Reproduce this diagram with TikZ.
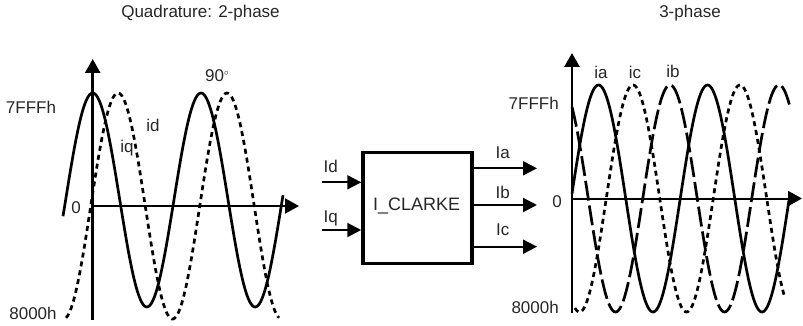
\documentclass[tikz,border=0pt]{standalone}
\usepackage{fontspec}
\setmainfont{Liberation Sans}
\usetikzlibrary{arrows.meta}
\begin{document}
\begin{tikzpicture}[x=1pt,y=-1pt,
  txt/.style={inner sep=0pt,text=black!85,font=\fontsize{17}{20}\selectfont},
  axisline/.style={line width=2pt,-{Triangle[length=14pt,width=15pt]}},
  sigarrow/.style={line width=2pt,-{Triangle[length=14pt,width=14pt]}},
  solidwave/.style={line width=2.7pt,line join=round},
  shortdash/.style={line width=2.7pt,dash pattern=on 5pt off 4pt},
  longdash/.style={line width=2.7pt,dash pattern=on 20pt off 5pt},
  blockbox/.style={draw,line width=3.5pt,minimum width=109pt,minimum height=111pt,inner sep=0pt}]
\path[use as bounding box] (0,0) rectangle (803,326);
% ---------- left plot ----------
\node[txt] (tl) at (200.5,13) {Quadrature: 2-phase};
\coordinate (lyb) at (92.7,320);
\coordinate (lyt) at (92.7,59);
\coordinate (lxo) at (92.7,206);
\coordinate (lxe) at (299,206);
\draw[line width=2.8pt,-{Triangle[length=14pt,width=15pt]}] (lyb) -- (lyt);
\draw[axisline] (lxo) -- (lxe);
\draw[solidwave] plot[domain=63:283,samples=160,smooth] (\x,{200-107*cos((\x-92.7)/108.3*360)});
\draw[shortdash] plot[domain=66:279,samples=160,smooth] (\x,{206-113*cos((\x-118)/109*360)});
\node[txt] (l7) at (31,107.5) {7FFFh};
\node[txt] (l0) at (76,208) {0};
\node[txt] (l8) at (33,313) {8000h};
\node[txt] (lid) at (153,125) {id};
\node[txt] (liq) at (127,148) {iq};
\node[txt] (l90) at (217,76) {90\raisebox{6pt}{\fontsize{9}{9}\selectfont$\circ$}};
% ---------- block ----------
\node[blockbox] (box) at (417.5,208) {};
\node[txt,font=\fontsize{18}{20}\selectfont] (boxt) at (416.7,205.7) {I\_CLARKE};
\coordinate (idin) at (321.7,182.3);
\coordinate (iqin) at (321.7,230);
\coordinate (iaout) at (537,168.3);
\coordinate (ibout) at (537,205);
\coordinate (icout) at (537,246.7);
\draw[sigarrow] (idin) -- (box.west |- idin);
\draw[sigarrow] (iqin) -- (box.west |- iqin);
\draw[sigarrow] (box.east |- iaout) -- (iaout);
\draw[sigarrow] (box.east |- ibout) -- (ibout);
\draw[sigarrow] (box.east |- icout) -- (icout);
\node[txt] (lId) at (330.7,166.7) {Id};
\node[txt] (lIq) at (330.7,218) {Iq};
\node[txt] (lIa) at (502.7,152.7) {Ia};
\node[txt] (lIb) at (502.7,192.7) {Ib};
\node[txt] (lIc) at (502.7,230) {Ic};
% ---------- right plot ----------
\node[txt] (tr) at (690,13) {3-phase};
\coordinate (ryb) at (572,313);
\coordinate (ryt) at (572,53);
\coordinate (rxo) at (572,198.5);
\coordinate (rxe) at (802,198.5);
\draw[line width=2.8pt,-{Triangle[length=14pt,width=15pt]}] (ryb) -- (ryt);
\draw[axisline] (rxo) -- (rxe);
\draw[solidwave] plot[domain=572:789,samples=180,smooth] (\x,{198.5-113.5*cos((\x-598.5)/109*360)});
\draw[shortdash] plot[domain=575:785,samples=180,smooth] (\x,{198.5-113.5*cos((\x-633)/107*360)});
\draw[longdash] plot[domain=572:790,samples=180,smooth] (\x,{198.5-113.5*cos((\x-670)/109*360)});
\node[txt,anchor=east] (r7) at (559,103) {7FFFh};
\node[txt] (r0) at (557,202) {0};
\node[txt,anchor=east] (r8) at (559,307) {8000h};
\node[txt] (ria) at (601,72) {ia};
\node[txt] (ric) at (635,72) {ic};
\node[txt] (rib) at (673,71) {ib};
\end{tikzpicture}
\end{document}
